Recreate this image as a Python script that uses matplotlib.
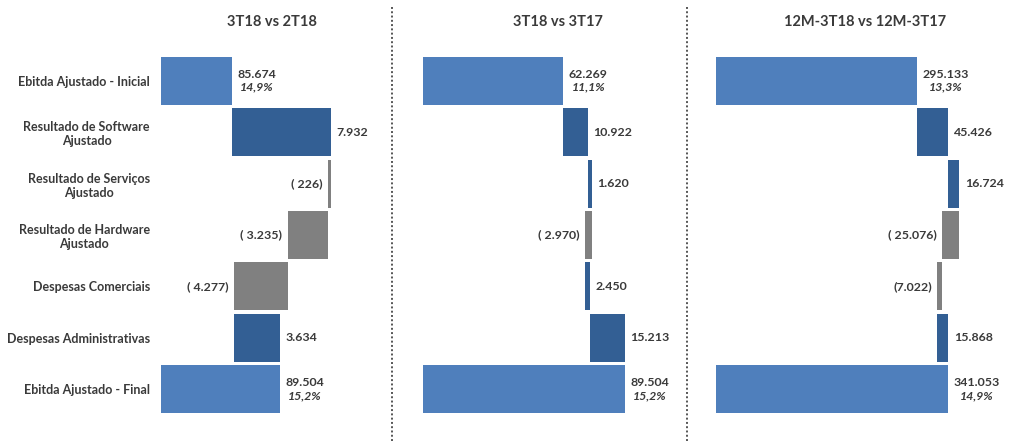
import matplotlib
matplotlib.use("Agg")
import matplotlib.pyplot as plt
from matplotlib.lines import Line2D
from matplotlib.offsetbox import TextArea, VPacker, AnnotationBbox

plt.rcParams['font.family'] = ['Lato', 'DejaVu Sans']

# ---------------- data ----------------
categories = ["Ebitda Ajustado - Inicial", "Resultado de Software\nAjustado",
              "Resultado de Serviços\nAjustado", "Resultado de Hardware\nAjustado",
              "Despesas Comerciais", "Despesas Administrativas", "Ebitda Ajustado - Final"]

titles = ["3T18 vs 2T18", "3T18 vs 3T17", "12M-3T18 vs 12M-3T17"]

p1_start, p1_end = 85674, 89504
p1_deltas = [7932, -226, -3235, -4277, 3634]
p1_labels = ["7.932", "( 226)", "( 3.235)", "( 4.277)", "3.634"]
p1_total_labels = ["85.674", "89.504"]
p1_margins = ["14,9%", "15,2%"]

p2_start, p2_end = 62269, 89504
p2_deltas = [10922, 1620, -2970, 2450, 15213]
p2_labels = ["10.922", "1.620", "( 2.970)", "2.450", "15.213"]
p2_total_labels = ["62.269", "89.504"]
p2_margins = ["11,1%", "15,2%"]

p3_start, p3_end = 295133, 341053
p3_deltas = [45426, 16724, -25076, -7022, 15868]
p3_labels = ["45.426", "16.724", "( 25.076)", "(7.022)", "15.868"]
p3_total_labels = ["295.133", "341.053"]
p3_margins = ["13,3%", "14,9%"]

# ---------------- style ----------------
C_TOTAL = "#4F7FBC"
C_UP = "#335F94"
C_DOWN = "#808080"
C_TEXT = "#3A3A3A"
FS_CAT = 9.0
FS_VAL = 8.9
FS_TITLE = 10.5

W, H = 1023, 441
fig = plt.figure(figsize=(W / 100, H / 100), dpi=100)

top_px, bot_px = 55.3, 414.7
panels = [
    dict(start=p1_start, end=p1_end, deltas=p1_deltas, labels=p1_labels,
         tl=p1_total_labels, mg=p1_margins, l=161, r=385, xlim=(80000, 97920), tx=272),
    dict(start=p2_start, end=p2_end, deltas=p2_deltas, labels=p2_labels,
         tl=p2_total_labels, mg=p2_margins, l=423.3, r=680, xlim=(0, 114089), tx=558),
    dict(start=p3_start, end=p3_end, deltas=p3_deltas, labels=p3_labels,
         tl=p3_total_labels, mg=p3_margins, l=715.7, r=1015, xlim=(0, 438856), tx=865),
]

bar_h = 0.935
for i, p in enumerate(panels):
    ax = fig.add_axes([p['l'] / W, (H - bot_px) / H, (p['r'] - p['l']) / W, (bot_px - top_px) / H])
    n = len(categories)
    ys = list(range(n))
    ax.barh(0, p['start'], height=bar_h, color=C_TOTAL, edgecolor='none')
    cum = p['start']
    for j, d in enumerate(p['deltas']):
        y = j + 1
        left = min(cum, cum + d)
        ax.barh(y, abs(d), left=left, height=bar_h,
                color=C_UP if d >= 0 else C_DOWN, edgecolor='none')
        if d >= 0:
            ax.annotate(p['labels'][j], xy=(left + abs(d), y), xytext=(4, 0),
                        textcoords='offset points', ha='left', va='center',
                        fontsize=FS_VAL, fontweight='bold', color=C_TEXT)
        else:
            ax.annotate(p['labels'][j], xy=(left, y), xytext=(-4, 0),
                        textcoords='offset points', ha='right', va='center',
                        fontsize=FS_VAL, fontweight='bold', color=C_TEXT)
        cum += d
    ax.barh(n - 1, p['end'], height=bar_h, color=C_TOTAL, edgecolor='none')

    for k, (yy, val) in enumerate([(0, p['start']), (n - 1, p['end'])]):
        t1 = TextArea(p['tl'][k], textprops=dict(fontsize=FS_VAL, fontweight='bold', color=C_TEXT))
        t2 = TextArea(p['mg'][k], textprops=dict(fontsize=FS_VAL, fontweight='bold',
                                                   fontstyle='italic', color=C_TEXT))
        box = VPacker(children=[t1, t2], align='center', pad=0, sep=1.2)
        ab = AnnotationBbox(box, (val, yy), xybox=(4, 0), xycoords='data',
                            boxcoords='offset points', box_alignment=(0, 0.5),
                            frameon=False, pad=0)
        ax.add_artist(ab)

    ax.set_xlim(*p['xlim'])
    ax.set_ylim(n - 0.5, -0.5)
    for s in ax.spines.values():
        s.set_visible(False)
    ax.set_xticks([])
    if i == 0:
        ax.set_yticks(ys)
        ax.set_yticklabels(categories, fontsize=FS_CAT, fontweight='bold', color=C_TEXT)
        for lab in ax.get_yticklabels():
            lab.set_multialignment('center')
            lab.set_linespacing(1.2)
        ax.tick_params(axis='y', length=0, pad=8)
    else:
        ax.set_yticks([])
    fig.text(p['tx'] / W, 1 - 22 / H, titles[i], ha='center', va='center',
             fontsize=FS_TITLE, fontweight='bold', color=C_TEXT)

for xpx in (391.5, 687):
    fig.add_artist(Line2D([xpx / W, xpx / W], [0, 1 - 6 / H], transform=fig.transFigure,
                          color="#555555", linestyle=(0, (1, 1.2)), linewidth=1.4))

fig.savefig("out.png", dpi=100)
